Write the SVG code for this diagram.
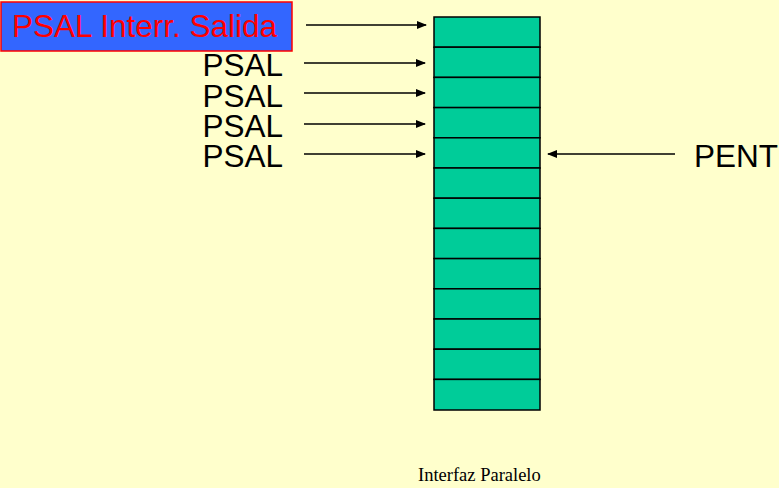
<svg xmlns="http://www.w3.org/2000/svg" width="779" height="488" viewBox="0 0 779 488">
  <style>
    .lbl { font-family: "Liberation Sans", Arial, sans-serif; font-size: 31.5px; fill: #000; }
    .cell { fill: #00CC99; stroke: #000; stroke-width: 1.5; }
    .arrow { stroke: #000; stroke-width: 1.5; fill: none; marker-end: url(#head); }
  </style>
  <defs>
    <marker id="head" markerWidth="10" markerHeight="8" refX="9" refY="4" orient="auto" markerUnits="userSpaceOnUse">
      <path d="M0,0 L10,4 L0,8 Z" fill="#000"/>
    </marker>
  </defs>
  <rect width="779" height="488" fill="#FFFFCC"/>

  <g id="title">
    <rect x="1" y="2" width="291" height="49" fill="#3366FF" stroke="#FF0000" stroke-width="1.5"/>
    <text x="12" y="37" class="lbl" style="fill:#FF0000">PSAL Interr. Salida</text>
  </g>

  <g id="psal-labels">
    <text x="283" y="76" text-anchor="end" class="lbl">PSAL</text>
    <text x="283" y="107" text-anchor="end" class="lbl">PSAL</text>
    <text x="283" y="137" text-anchor="end" class="lbl">PSAL</text>
    <text x="283" y="167" text-anchor="end" class="lbl">PSAL</text>
  </g>

  <g id="pent">
    <text x="694" y="167" class="lbl">PENT</text>
  </g>

  <g id="buffer">
    <rect class="cell" x="434" y="17" width="106" height="30.2"/>
    <rect class="cell" x="434" y="47.2" width="106" height="30.2"/>
    <rect class="cell" x="434" y="77.4" width="106" height="30.2"/>
    <rect class="cell" x="434" y="107.6" width="106" height="30.2"/>
    <rect class="cell" x="434" y="137.8" width="106" height="30.2"/>
    <rect class="cell" x="434" y="168" width="106" height="30.2"/>
    <rect class="cell" x="434" y="198.2" width="106" height="30.2"/>
    <rect class="cell" x="434" y="228.4" width="106" height="30.2"/>
    <rect class="cell" x="434" y="258.6" width="106" height="30.2"/>
    <rect class="cell" x="434" y="288.8" width="106" height="30.2"/>
    <rect class="cell" x="434" y="319" width="106" height="30.2"/>
    <rect class="cell" x="434" y="349.2" width="106" height="30.2"/>
    <rect class="cell" x="434" y="379.4" width="106" height="30.6"/>
  </g>

  <g id="connectors">
    <line class="arrow" x1="306" y1="25" x2="426" y2="25"/>
    <line class="arrow" x1="304" y1="63" x2="425" y2="63"/>
    <line class="arrow" x1="304" y1="93" x2="425" y2="93"/>
    <line class="arrow" x1="304" y1="124" x2="425" y2="124"/>
    <line class="arrow" x1="304" y1="154" x2="425" y2="154"/>
    <line class="arrow" x1="675" y1="154" x2="548" y2="154"/>
  </g>

  <g id="footer">
    <text x="418" y="481" style="font-family:'Liberation Serif','Times New Roman',serif;font-size:18.5px;fill:#000">Interfaz Paralelo</text>
  </g>
</svg>
